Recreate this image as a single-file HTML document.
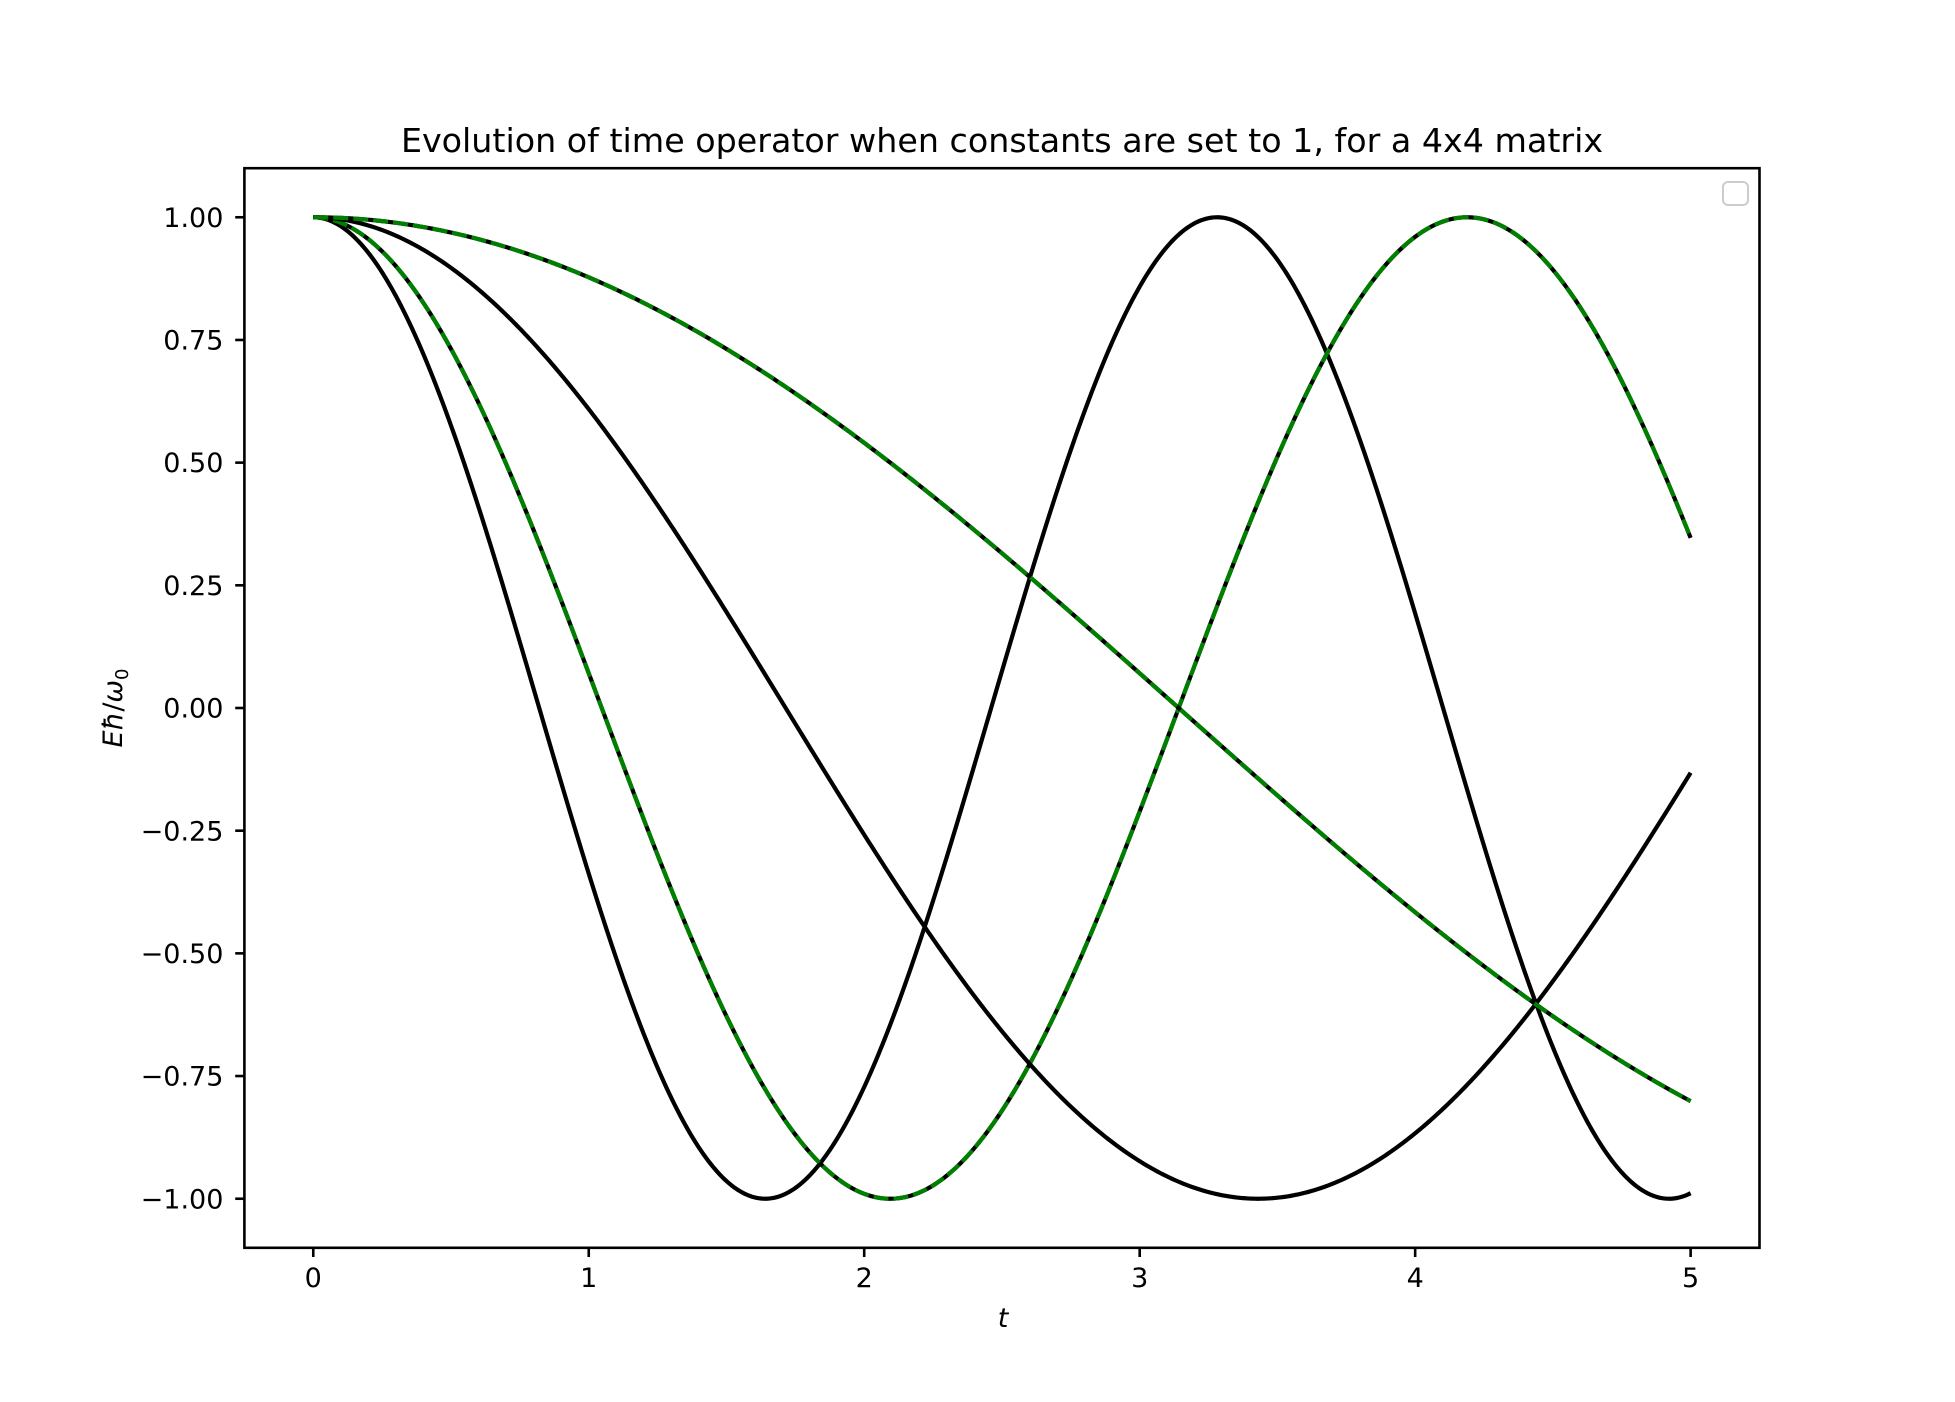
<!DOCTYPE html>
<html><head><meta charset="utf-8"><style>
html,body{margin:0;padding:0;background:#fff;}
svg{display:block;font-family:"DejaVu Sans","Liberation Sans",sans-serif;}
</style></head><body>
<svg id="chart" width="1955" height="1402" viewBox="0 0 1955 1402" xmlns="http://www.w3.org/2000/svg">
<rect x="0" y="0" width="1955" height="1402" fill="#fff"/>
<text x="1002" y="152" font-size="33.3" text-anchor="middle">Evolution of time operator when constants are set to 1, for a 4x4 matrix</text>
<g id="plot"></g>
<g id="axes"></g>
<rect x="1723" y="182" width="25" height="23" rx="5" fill="#fff" stroke="#cccccc" stroke-width="2"/>
<text x="1003" y="1327" font-size="27" font-style="italic" text-anchor="middle">t</text>
<text transform="translate(122,708) rotate(-90)" font-size="27" text-anchor="middle"><tspan font-style="italic">Eħ</tspan>/<tspan font-style="italic">ω</tspan><tspan font-size="18" dy="6">0</tspan></text>
</svg>
<script>
// Angular frequencies of the four eigenmodes (curves are cos(omega * t))
const omegas = [1.915, 1.5, 0.916, 0.5];
const greenOverlay = [false, true, false, true];
const tStart = 0, tEnd = 5;
const xTicks = [0, 1, 2, 3, 4, 5];
const xTickLabels = ["0", "1", "2", "3", "4", "5"];
const yTicks = [1, 0.75, 0.5, 0.25, 0, -0.25, -0.5, -0.75, -1];
const yTickLabels = ["1.00", "0.75", "0.50", "0.25", "0.00", "\u22120.25", "\u22120.50", "\u22120.75", "\u22121.00"];

const L = 244.4, R = 1759.5, T = 168.2, B = 1247.8;
const xMin = -0.25, xMax = 5.25, yMin = -1.1, yMax = 1.1;
const sx = v => L + (v - xMin) / (xMax - xMin) * (R - L);
const sy = v => B - (v - yMin) / (yMax - yMin) * (B - T);
const NS = "http://www.w3.org/2000/svg";
const plot = document.getElementById('plot');
const axes = document.getElementById('axes');

omegas.forEach((w, i) => {
  let d = "";
  const N = 600;
  for (let k = 0; k <= N; k++) {
    const t = tStart + (tEnd - tStart) * k / N;
    d += (k ? "L" : "M") + sx(t).toFixed(2) + "," + sy(Math.cos(w * t)).toFixed(2);
  }
  const p = document.createElementNS(NS, 'path');
  p.setAttribute('d', d);
  p.setAttribute('fill', 'none');
  p.setAttribute('stroke', '#000');
  p.setAttribute('stroke-width', '4.2');
  
  
  plot.appendChild(p);
  if (greenOverlay[i]) {
    const g = document.createElementNS(NS, 'path');
    g.setAttribute('d', d);
    g.setAttribute('fill', 'none');
    g.setAttribute('stroke', '#008000');
    g.setAttribute('stroke-width', '4.2');
    g.setAttribute('stroke-dasharray', '15,5');
    
    
    plot.appendChild(g);
  }
});

const frame = document.createElementNS(NS, 'rect');
frame.setAttribute('x', L); frame.setAttribute('y', T);
frame.setAttribute('width', R - L); frame.setAttribute('height', B - T);
frame.setAttribute('fill', 'none'); frame.setAttribute('stroke', '#000'); frame.setAttribute('stroke-width', '2.6');


axes.appendChild(frame);

xTicks.forEach((v, i) => {
  const ln = document.createElementNS(NS, 'line');
  ln.setAttribute('x1', sx(v)); ln.setAttribute('x2', sx(v));
  ln.setAttribute('y1', B); ln.setAttribute('y2', B + 9.2);
  ln.setAttribute('stroke', '#000'); ln.setAttribute('stroke-width', '2.6');
  
  
  axes.appendChild(ln);
  const tx = document.createElementNS(NS, 'text');
  tx.setAttribute('x', sx(v)); tx.setAttribute('y', B + 39);
  tx.setAttribute('font-size', '27'); tx.setAttribute('text-anchor', 'middle');
  tx.textContent = xTickLabels[i];
  
  
  axes.appendChild(tx);
});
yTicks.forEach((v, i) => {
  const ln = document.createElementNS(NS, 'line');
  ln.setAttribute('x1', L - 9.2); ln.setAttribute('x2', L);
  ln.setAttribute('y1', sy(v)); ln.setAttribute('y2', sy(v));
  ln.setAttribute('stroke', '#000'); ln.setAttribute('stroke-width', '2.6');
  
  
  axes.appendChild(ln);
  const tx = document.createElementNS(NS, 'text');
  tx.setAttribute('x', L - 21); tx.setAttribute('y', sy(v) + 9.6);
  tx.setAttribute('font-size', '27'); tx.setAttribute('text-anchor', 'end');
  tx.textContent = yTickLabels[i];
  
  
  axes.appendChild(tx);
});
</script>
</body></html>
